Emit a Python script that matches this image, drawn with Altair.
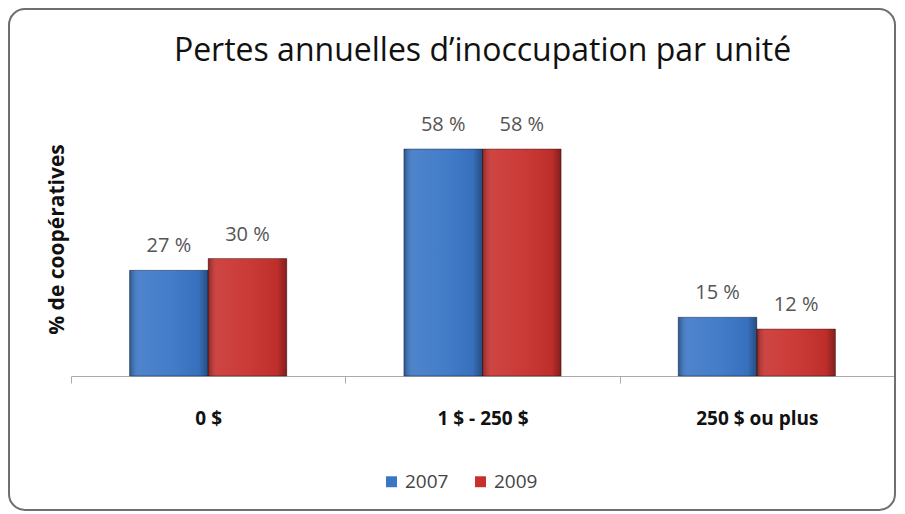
import altair as alt
import pandas as pd

categories = ["0  $", "1 $ - 250 $", "250 $ ou plus"]
years = ["2007", "2009"]
v2007 = [27, 58, 15]
v2009 = [30, 58, 12]
colors = ["#3a76c6", "#c8302d"]

rows = []
for c, a, b in zip(categories, v2007, v2009):
    rows.append({"cat": c, "year": "2007", "val": a, "lab": f"{a} %"})
    rows.append({"cat": c, "year": "2009", "val": b, "lab": f"{b} %"})
df = pd.DataFrame(rows)

FONT = "Open Sans"

base = alt.Chart(df)

x_enc = alt.X("cat:N", sort=categories, title=None,
              scale=alt.Scale(paddingInner=0, paddingOuter=0),
              axis=alt.Axis(labelFont=FONT, labelFontSize=19, labelFontWeight="bold",
                            labelColor="#111", labelPadding=26, labelAngle=0,
                            domainColor="#aaaaaa", tickColor="#aaaaaa", tickSize=7,
                            tickBand="extent", grid=False))
xo_scale = alt.Scale(paddingInner=0, paddingOuter=0.745)
xo_enc = alt.XOffset("year:N", sort=years, scale=xo_scale)
y_enc = alt.Y("val:Q", scale=alt.Scale(domain=[0, 70]), title="% de coopératives",
              axis=alt.Axis(labels=False, ticks=False, domain=False, grid=False,
                            titleFont=FONT, titleFontSize=21, titleFontWeight="bold",
                            titleColor="#111", titlePadding=4))

bars = base.mark_bar().encode(
    x=x_enc, xOffset=xo_enc, y=y_enc,
    color=alt.Color("year:N", sort=years, title=None,
                    scale=alt.Scale(domain=years, range=colors),
                    legend=alt.Legend(orient="none", direction="horizontal",
                                      legendX=311, legendY=370,
                                      symbolType="square", symbolSize=120,
                                      symbolStrokeWidth=0,
                                      labelFont=FONT, labelFontSize=19, labelColor="#444",
                                      columnPadding=22, labelOffset=4)),
)

shade = alt.Gradient(
    gradient="linear", x1=0, x2=1, y1=0, y2=0,
    stops=[
        alt.GradientStop(offset=0, color="rgba(0,0,0,0.28)"),
        alt.GradientStop(offset=0.12, color="rgba(255,255,255,0.10)"),
        alt.GradientStop(offset=0.5, color="rgba(255,255,255,0.05)"),
        alt.GradientStop(offset=0.88, color="rgba(0,0,0,0.05)"),
        alt.GradientStop(offset=1, color="rgba(0,0,0,0.35)"),
    ],
)
overlay = base.mark_bar(fill=shade, stroke="rgba(0,0,0,0.35)", strokeWidth=1).encode(
    x=alt.X("cat:N", sort=categories),
    xOffset=alt.XOffset("year:N", sort=years, scale=xo_scale), y="val:Q"
)

labels = base.mark_text(font=FONT, fontSize=20, color="#555", dy=-14, baseline="bottom").encode(
    x=alt.X("cat:N", sort=categories),
    xOffset=alt.XOffset("year:N", sort=years, scale=xo_scale),
    y="val:Q", text="lab:N"
)

border = alt.Chart(pd.DataFrame({"a": [0]})).mark_rect(
    fillOpacity=0, stroke="#6f6f6f", strokeWidth=2, cornerRadius=16
).encode(x=alt.value(-62), x2=alt.value(824), y=alt.value(-93), y2=alt.value(408))

chart = alt.layer(border, bars, overlay, labels).properties(
    width=823, height=274,
    autosize=alt.AutoSizeParams(type="none"),
    padding={"left": 63, "top": 94, "right": 3, "bottom": 136},
    title=alt.TitleParams("Pertes annuelles d\u2019inoccupation par unité",
                          font=FONT, fontSize=32, fontWeight="normal", color="#111",
                          offset=0, dy=60),
).configure_view(stroke=None)

chart.save("out.html", embed_options={"renderer": "svg", "actions": False})
